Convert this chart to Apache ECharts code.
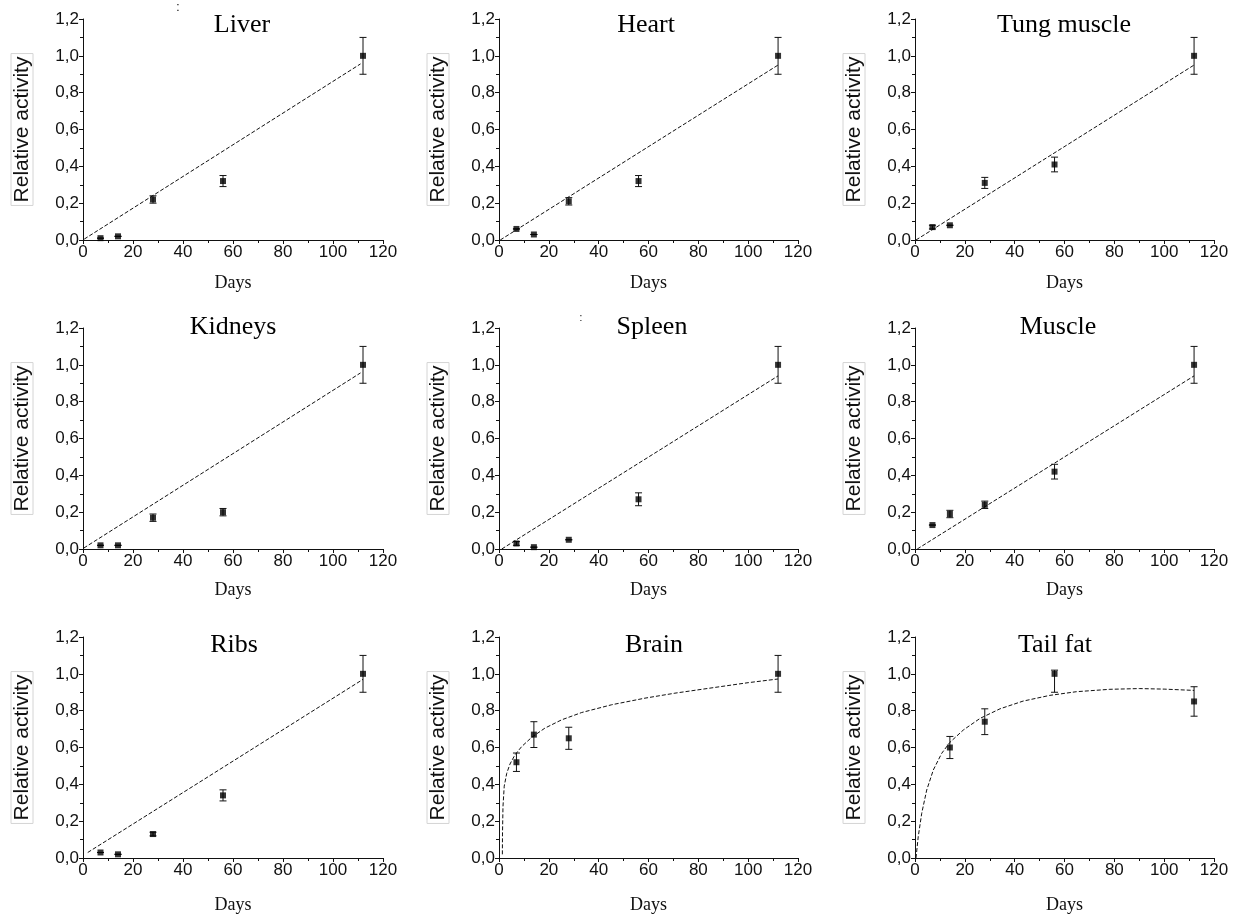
<!DOCTYPE html>
<html>
<head>
<meta charset="utf-8">
<title>Relative activity</title>
<script src="https://cdn.jsdelivr.net/npm/echarts@6/dist/echarts.min.js"></script>
<style>
  html, body { margin: 0; padding: 0; background: #fff; }
  #main { width: 1243px; height: 918px; }
</style>
</head>
<body>
<div id="main"></div>
<script>
// ---- data ----
var days = [7, 14, 28, 56, 112];
var daysTail = [14, 28, 56, 112];
var brainDays = [7, 14, 28, 112];

var liver = [0.01, 0.02, 0.22, 0.32, 1.00];
var liverErr = [0, 0, 0.02, 0.03, 0.10];
var heart = [0.06, 0.03, 0.21, 0.32, 1.00];
var heartErr = [0, 0, 0.02, 0.03, 0.10];
var tung = [0.07, 0.08, 0.31, 0.41, 1.00];
var tungErr = [0.01, 0, 0.03, 0.04, 0.10];
var kidneys = [0.02, 0.02, 0.17, 0.20, 1.00];
var kidneysErr = [0, 0, 0.02, 0.02, 0.10];
var spleen = [0.03, 0.01, 0.05, 0.27, 1.00];
var spleenErr = [0.01, 0, 0, 0.035, 0.10];
var muscle = [0.13, 0.19, 0.24, 0.42, 1.00];
var muscleErr = [0, 0.02, 0.02, 0.04, 0.10];
var ribs = [0.03, 0.02, 0.13, 0.34, 1.00];
var ribsErr = [0, 0, 0.01, 0.03, 0.10];
var brain = [0.52, 0.67, 0.65, 1.00];
var brainErr = [0.05, 0.07, 0.06, 0.10];
var tailFat = [0.60, 0.74, 1.00, 0.85];
var tailFatErrLo = [0.06, 0.07, 0.10, 0.08];
var tailFatErrHi = [0.06, 0.07, 0.02, 0.08];

// fitted curves (dashed), read as points from the figure
var liverFit = [[0.5, 0.005], [111, 0.956]];
var heartFit = [[0.5, 0.0], [112, 0.95]];
var tungFit = [[0.4, 0.0], [112, 0.95]];
var kidneysFit = [[0.3, 0.005], [111, 0.956]];
var spleenFit = [[1.1, 0.0], [112, 0.94]];
var muscleFit = [[0.9, 0.0], [112, 0.94]];
var ribsFit = [[1.9, 0.03], [112, 0.97]];
var brainFit = [[1.35, 0.02], [1.4, 0.13], [1.6, 0.28], [2.1, 0.39], [3.1, 0.46], [4.4, 0.51],
  [6.4, 0.56], [9.1, 0.605], [13.1, 0.655], [18.4, 0.705], [25.1, 0.75], [33.2, 0.79],
  [45.2, 0.832], [58.6, 0.868], [70.6, 0.895], [88.6, 0.93], [100, 0.952], [112, 0.972]];
var tailFatFit = [[0.4, 0], [1.3, 0.116], [2.7, 0.243], [4.7, 0.369], [7.35, 0.478], [10.7, 0.568],
  [14, 0.628], [19.4, 0.695], [26.1, 0.758], [34.1, 0.81], [43.4, 0.852], [54.1, 0.883],
  [64.8, 0.903], [78.2, 0.916], [90, 0.92], [100, 0.917], [112, 0.91]];

var titles = ['Liver', 'Heart', 'Tung muscle', 'Kidneys', 'Spleen', 'Muscle', 'Ribs', 'Brain', 'Tail fat'];
var xTicks = [0, 20, 40, 60, 80, 100, 120];
var yTicks = [0, 0.2, 0.4, 0.6, 0.8, 1.0, 1.2];

var panels = [
  { x: days, y: liver, lo: liverErr, hi: liverErr, fit: liverFit },
  { x: days, y: heart, lo: heartErr, hi: heartErr, fit: heartFit },
  { x: days, y: tung, lo: tungErr, hi: tungErr, fit: tungFit },
  { x: days, y: kidneys, lo: kidneysErr, hi: kidneysErr, fit: kidneysFit },
  { x: days, y: spleen, lo: spleenErr, hi: spleenErr, fit: spleenFit },
  { x: days, y: muscle, lo: muscleErr, hi: muscleErr, fit: muscleFit },
  { x: days, y: ribs, lo: ribsErr, hi: ribsErr, fit: ribsFit },
  { x: brainDays, y: brain, lo: brainErr, hi: brainErr, fit: brainFit },
  { x: daysTail, y: tailFat, lo: tailFatErrLo, hi: tailFatErrHi, fit: tailFatFit }
];

// ---- layout ----
var colLeft = [83, 499, 915];
var colWidth = [300, 299, 299];
var rowTop = [19, 328, 637];
var plotH = 221;
var titleX = [242, 646, 1064, 233, 652, 1058, 234, 654, 1055];
var titleY = [25, 327, 645];
var daysGap = [34, 32, 38];

var sans = '"Liberation Sans", Arial, sans-serif';
var serif = '"Liberation Serif", "Times New Roman", serif';
var ink = '#111';

var grids = [], xAxes = [], yAxes = [], series = [], graphics = [];

panels.forEach(function (p, i) {
  var r = Math.floor(i / 3), c = i % 3;
  grids.push({ left: colLeft[c], top: rowTop[r], width: colWidth[c], height: plotH });

  xAxes.push({
    gridIndex: i, type: 'value', min: xTicks[0], max: xTicks[xTicks.length - 1], interval: 20,
    axisLine: { onZero: false, lineStyle: { color: ink, width: 1 } },
    axisTick: { length: 4, lineStyle: { color: ink } },
    minorTick: { show: true, splitNumber: 2, length: 3, lineStyle: { color: ink } },
    splitLine: { show: false },
    axisLabel: { fontFamily: sans, fontSize: 17, color: ink, margin: 4 },
    name: 'Days', nameLocation: 'middle', nameGap: daysGap[r],
    nameTextStyle: { fontFamily: serif, fontSize: 18, color: ink }
  });

  yAxes.push({
    gridIndex: i, type: 'value', min: yTicks[0], max: yTicks[yTicks.length - 1], interval: 0.2,
    axisLine: { show: true, onZero: false, lineStyle: { color: ink, width: 1 } },
    axisTick: { show: true, length: 4, lineStyle: { color: ink } },
    minorTick: { show: true, splitNumber: 2, length: 3, lineStyle: { color: ink } },
    splitLine: { show: false },
    axisLabel: {
      fontFamily: sans, fontSize: 17, color: ink, margin: 4,
      formatter: function (v) { return v.toFixed(1).replace('.', ','); }
    },
    name: 'Relative activity', nameLocation: 'middle', nameGap: 50,
    nameTextStyle: {
      fontFamily: sans, fontSize: 21, color: ink,
      borderColor: '#d4d4d4', borderWidth: 1, padding: [1, 3, 0, 3]
    }
  });

  var pts = p.x.map(function (d, k) { return [d, p.y[k]]; });
  var bars = p.x.map(function (d, k) { return [d, p.y[k], p.y[k] - p.lo[k], p.y[k] + p.hi[k]]; });

  series.push({
    type: 'line', xAxisIndex: i, yAxisIndex: i, data: p.fit,
    showSymbol: false, symbol: 'none', silent: true, smooth: false,
    lineStyle: { color: ink, width: 1, type: [4, 2] }, z: 2
  });

  series.push({
    type: 'custom', xAxisIndex: i, yAxisIndex: i, data: bars, silent: true, z: 3,
    renderItem: function (params, api) {
      var x = api.value(0);
      var top = api.coord([x, api.value(3)]);
      var bot = api.coord([x, api.value(2)]);
      var w = 3.5;
      var st = { stroke: ink, lineWidth: 1 };
      return {
        type: 'group',
        children: [
          { type: 'line', shape: { x1: top[0], y1: top[1], x2: bot[0], y2: bot[1] }, style: st },
          { type: 'line', shape: { x1: top[0] - w, y1: top[1], x2: top[0] + w, y2: top[1] }, style: st },
          { type: 'line', shape: { x1: bot[0] - w, y1: bot[1], x2: bot[0] + w, y2: bot[1] }, style: st }
        ]
      };
    }
  });

  series.push({
    type: 'scatter', xAxisIndex: i, yAxisIndex: i, data: pts,
    symbol: 'rect', symbolSize: 6, itemStyle: { color: '#000' }, z: 4
  });

  graphics.push({
    type: 'text', x: titleX[i], y: titleY[r],
    style: { text: titles[i], font: '26px ' + serif, fill: '#000', align: 'center', verticalAlign: 'middle' }
  });
});

// small scan specks present in the original figure
graphics.push({ type: 'text', x: 178, y: 8, style: { text: ':', font: '12px ' + sans, fill: '#000', align: 'center', verticalAlign: 'middle' } });
graphics.push({ type: 'text', x: 581, y: 318, style: { text: ':', font: '10px ' + sans, fill: '#000', align: 'center', verticalAlign: 'middle' } });

var chart = echarts.init(document.getElementById('main'));
chart.setOption({
  animation: false,
  backgroundColor: '#fff',
  grid: grids,
  xAxis: xAxes,
  yAxis: yAxes,
  series: series,
  graphic: graphics
});
</script>
</body>
</html>
